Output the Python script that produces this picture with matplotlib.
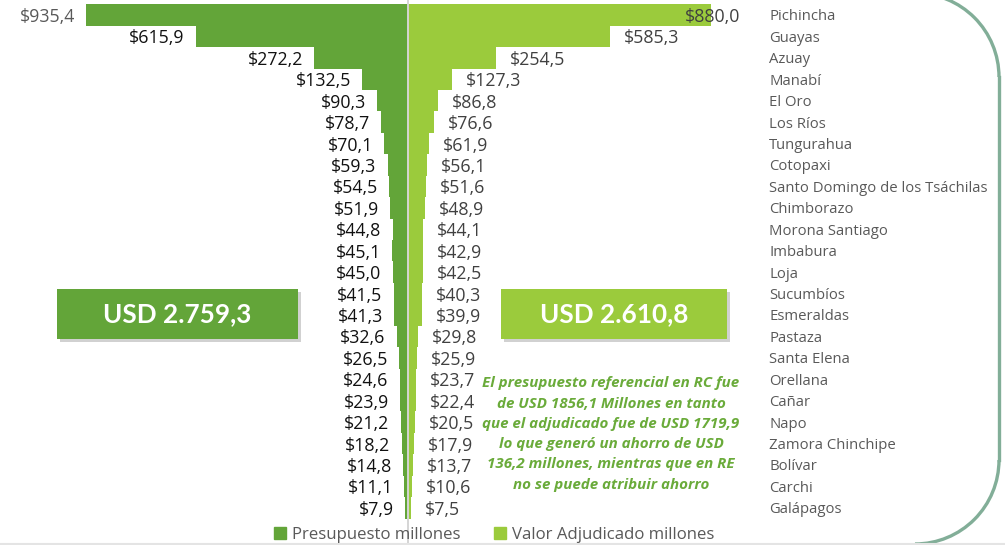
import matplotlib
matplotlib.use("Agg")
import matplotlib.pyplot as plt
from matplotlib.patches import FancyBboxPatch, Patch, Arc
from matplotlib.lines import Line2D
from matplotlib.transforms import IdentityTransform, blended_transform_factory

provincias = ["Pichincha", "Guayas", "Azuay", "Manabí", "El Oro", "Los Ríos",
              "Tungurahua", "Cotopaxi", "Santo Domingo de los Tsáchilas",
              "Chimborazo", "Morona Santiago", "Imbabura", "Loja", "Sucumbíos",
              "Esmeraldas", "Pastaza", "Santa Elena", "Orellana", "Cañar", "Napo",
              "Zamora Chinchipe", "Bolívar", "Carchi", "Galápagos"]
presupuesto = [935.4, 615.9, 272.2, 132.5, 90.3, 78.7, 70.1, 59.3, 54.5, 51.9,
               44.8, 45.1, 45.0, 41.5, 41.3, 32.6, 26.5, 24.6, 23.9, 21.2,
               18.2, 14.8, 11.1, 7.9]
adjudicado = [880.0, 585.3, 254.5, 127.3, 86.8, 76.6, 61.9, 56.1, 51.6, 48.9,
              44.1, 42.9, 42.5, 40.3, 39.9, 29.8, 25.9, 23.7, 22.4, 20.5,
              17.9, 13.7, 10.6, 7.5]
total_presupuesto = "USD 2.759,3"
total_adjudicado = "USD 2.610,8"
nota = ("El presupuesto referencial en RC fue\n"
        "de USD 1856,1 Millones en tanto\n"
        "que el adjudicado fue de USD 1719,9\n"
        "lo que generó un ahorro de USD\n"
        "136,2 millones, mientras que en RE\n"
        "no se puede atribuir ahorro")

DARK = "#63A539"
LIGHT = "#9BCB3C"
GREY = "#595959"

plt.rcParams["font.family"] = ["Open Sans", "DejaVu Sans"]


def fmt(v):
    return "$" + f"{v:.1f}".replace(".", ",")


W, H = 1005, 545
fig = plt.figure(figsize=(W / 100, H / 100), dpi=100)
ax = fig.add_axes([0, 0, 760 / W, 1])

y = list(range(len(provincias)))
ax.barh(y, [-v for v in presupuesto], height=1.0, color=DARK)
ax.barh(y, adjudicado, height=1.0, color=LIGHT)
ax.axvline(0, color="#D5D5D5", lw=1.4)

scale = 0.3443  # pixels per million
ytop = -0.70
ax.set_xlim(-408 / scale, (760 - 408) / scale)
ax.set_ylim(H / 21.43 + ytop, ytop)
ax.axis("off")

dy = 0.09  # small nudge so text sits on the bar centre
for i, v in enumerate(presupuesto):
    ax.annotate(fmt(v), (-v, i + dy), xytext=(-8, 0), textcoords="offset points",
                ha="right", va="center", fontsize=12.8,
                color=GREY if i == 0 else "#111111")
for i, v in enumerate(adjudicado):
    off = -19 if i == 0 else 10
    ax.annotate(fmt(v), (v, i + dy), xytext=(off, 0), textcoords="offset points",
                ha="left", va="center", fontsize=12.8, color="#404040")

tr = blended_transform_factory(fig.transFigure, ax.transData)
for i, name in enumerate(provincias):
    ax.text(769 / W, i + dy, name, transform=tr, ha="left", va="center",
            fontsize=10.7, color=GREY, clip_on=False)

# total boxes
for x0, x1, col, txt in [(57, 298, DARK, total_presupuesto),
                         (501, 727, LIGHT, total_adjudicado)]:
    shadow = FancyBboxPatch(((x0 + 3) / W, (H - 339 - 3) / H), (x1 - x0) / W, 50 / H,
                            boxstyle="square,pad=0", transform=fig.transFigure,
                            facecolor="#000000", alpha=0.18, edgecolor="none")
    box = FancyBboxPatch((x0 / W, (H - 339) / H), (x1 - x0) / W, 50 / H,
                         boxstyle="square,pad=0", transform=fig.transFigure,
                         facecolor=col, edgecolor="none")
    fig.add_artist(shadow)
    fig.add_artist(box)
    fig.text((x0 + x1) / 2 / W, (H - 314) / H, txt, ha="center", va="center",
             color="white", fontsize=18.8, fontweight="bold",
             family=["Lato", "DejaVu Sans"])

fig.text(611 / W, (H - 434) / H, nota, ha="center", va="center",
         fontsize=10.9, color="#6AAB3A", fontweight="bold", style="italic",
         linespacing=1.57)

# legend
handles = [Patch(color=DARK, label="Presupuesto millones"),
           Patch(color=LIGHT, label="Valor Adjudicado millones")]
fig.legend(handles=handles, loc="center", bbox_to_anchor=(494 / W, 10 / H),
           ncol=2, frameon=False, fontsize=12.1, labelcolor=GREY,
           handlelength=0.72, handleheight=0.72, handletextpad=0.35,
           columnspacing=2.0, borderpad=0)

# slide frame
fig.add_artist(Line2D([0, 1], [1.5 / H, 1.5 / H], transform=fig.transFigure,
                      color="#E4E4E4", lw=1.5))
R = 84
bc = "#82AE98"
idt = IdentityTransform()
fig.add_artist(Arc((999 - R, H + 7 - R), 2 * R, 2 * R, theta1=0, theta2=90,
                   transform=idt, color=bc, lw=2.4))
fig.add_artist(Arc((999 - R, 1 + R), 2 * R, 2 * R, theta1=270, theta2=360,
                   transform=idt, color=bc, lw=2.4))
fig.add_artist(Line2D([999, 999], [1 + R, H + 7 - R], transform=idt,
                      color=bc, lw=2.4))

fig.savefig("out.png", dpi=100, facecolor="white")
